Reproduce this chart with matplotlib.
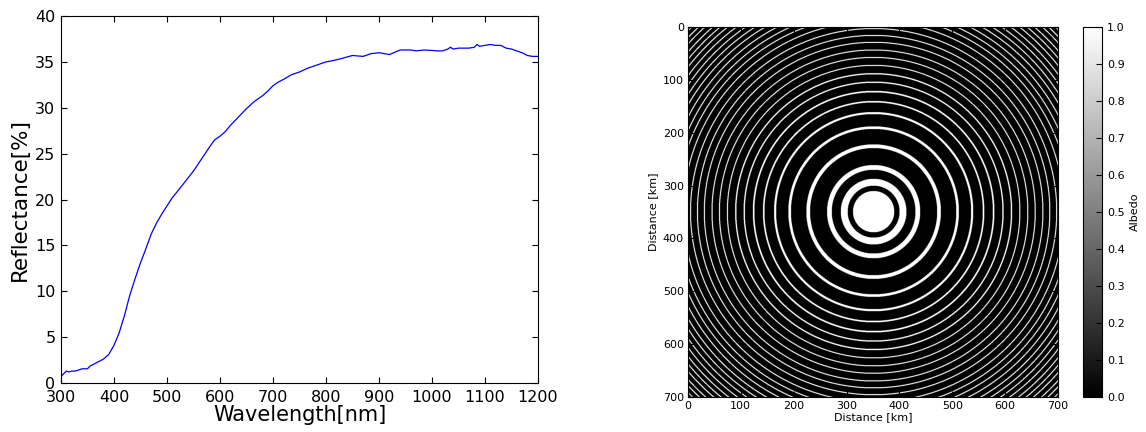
import numpy as np
import matplotlib
matplotlib.use('Agg')
import matplotlib.pyplot as plt

# reflectance spectrum
wavelength = [300, 305, 310, 315, 320, 325, 330, 340, 350, 355, 360, 370, 380, 390,
              400, 410, 420, 430, 440, 450, 460, 470, 480, 490, 500, 510, 520, 535,
              550, 565, 580, 590, 600, 610, 620, 635, 650, 665, 680, 690, 700, 710,
              720, 735, 750, 765, 780, 790, 800, 810, 825, 850, 870, 885, 900, 920,
              940, 960, 970, 985, 1000, 1010, 1020, 1030, 1035, 1040, 1050, 1060,
              1070, 1080, 1085, 1090, 1100, 1110, 1120, 1130, 1140, 1150, 1160,
              1170, 1180, 1190, 1200]
reflectance = [0.7, 1.0, 1.3, 1.2, 1.3, 1.3, 1.35, 1.55, 1.55, 1.85, 2.0, 2.3, 2.6, 3.1,
               4.1, 5.5, 7.4, 9.6, 11.4, 13.1, 14.6, 16.2, 17.4, 18.4, 19.3, 20.2, 20.9, 22.0,
               23.1, 24.4, 25.7, 26.5, 26.9, 27.4, 28.1, 29.0, 29.9, 30.7, 31.3, 31.8, 32.4, 32.8,
               33.1, 33.6, 33.9, 34.3, 34.6, 34.8, 35.0, 35.1, 35.3, 35.7, 35.6, 35.9, 36.0, 35.8,
               36.3, 36.3, 36.2, 36.3, 36.25, 36.2, 36.2, 36.4, 36.6, 36.4, 36.5, 36.5,
               36.5, 36.6, 36.9, 36.7, 36.8, 36.9, 36.8, 36.8, 36.5, 36.4, 36.2,
               36.0, 35.7, 35.6, 35.6]

# white annuli of the albedo map: inner / outer radius in km (centre at 350, 350)
ring_inner = [0, 49, 79, 120, 156, 184, 206, 225, 243, 259, 275, 290, 304, 318.5, 331.5, 344.5,
              358, 370, 381, 392, 403, 413, 423, 433, 443, 452, 461,
              471, 479, 488, 497]
ring_outer = [39, 62, 88, 127, 161, 188, 209, 228, 245.5, 261.5, 277, 292, 306, 320.5, 333.5, 346.5,
              360, 372, 383, 394, 405, 415, 425, 435, 445, 454, 463,
              473, 481, 490, 499]
map_size = 700
centre = 350

plt.rcParams['xtick.direction'] = 'in'
plt.rcParams['ytick.direction'] = 'in'
plt.rcParams['xtick.top'] = True
plt.rcParams['ytick.right'] = True
plt.rcParams['xtick.major.size'] = 4
plt.rcParams['ytick.major.size'] = 4

fig = plt.figure(figsize=(11.46, 4.32), dpi=100)

ax1 = fig.add_axes([0.0532, 0.1134, 0.4162, 0.8495])
ax1.plot(wavelength, reflectance, color='b', lw=0.9)
ax1.set_xlim(300, 1200)
ax1.set_ylim(0, 40)
ax1.set_xticks(range(300, 1201, 100))
ax1.set_yticks(range(0, 41, 5))
ax1.tick_params(labelsize=11.5)
ax1.tick_params(axis='x', pad=5)
ax1.tick_params(axis='y', pad=4)
ax1.set_xlabel('Wavelength[nm]', fontsize=15, labelpad=0)
ax1.set_ylabel('Reflectance[%]', fontsize=15.5, labelpad=4)

# build the ring image from the radii
yy, xx = np.mgrid[0:map_size * 2, 0:map_size * 2] / 2.0
r = np.hypot(xx - centre, yy - centre)
img = np.zeros_like(r)
for lo, hi in zip(ring_inner, ring_outer):
    img[(r >= lo) & (r <= hi)] = 1.0

ax2 = fig.add_axes([0.6003, 0.0810, 0.3229, 0.8565])
im = ax2.imshow(img, cmap='gray', vmin=0, vmax=1, extent=[0, 700, 700, 0],
                interpolation='antialiased')
ax2.set_xticks(range(0, 701, 100))
ax2.set_yticks(range(0, 701, 100))
ax2.tick_params(labelsize=8, pad=3, color='black')
ax2.set_xlabel('Distance [km]', fontsize=8, labelpad=1)
ax2.set_ylabel('Distance [km]', fontsize=8, labelpad=3)

cax = fig.add_axes([0.9450, 0.0810, 0.0166, 0.8565])
cb = fig.colorbar(im, cax=cax)
cb.set_ticks(np.arange(0, 1.01, 0.1))
cb.ax.tick_params(labelsize=8, direction='in', length=4)
cb.set_label('Albedo', fontsize=8)

fig.savefig('out.png', dpi=100)
